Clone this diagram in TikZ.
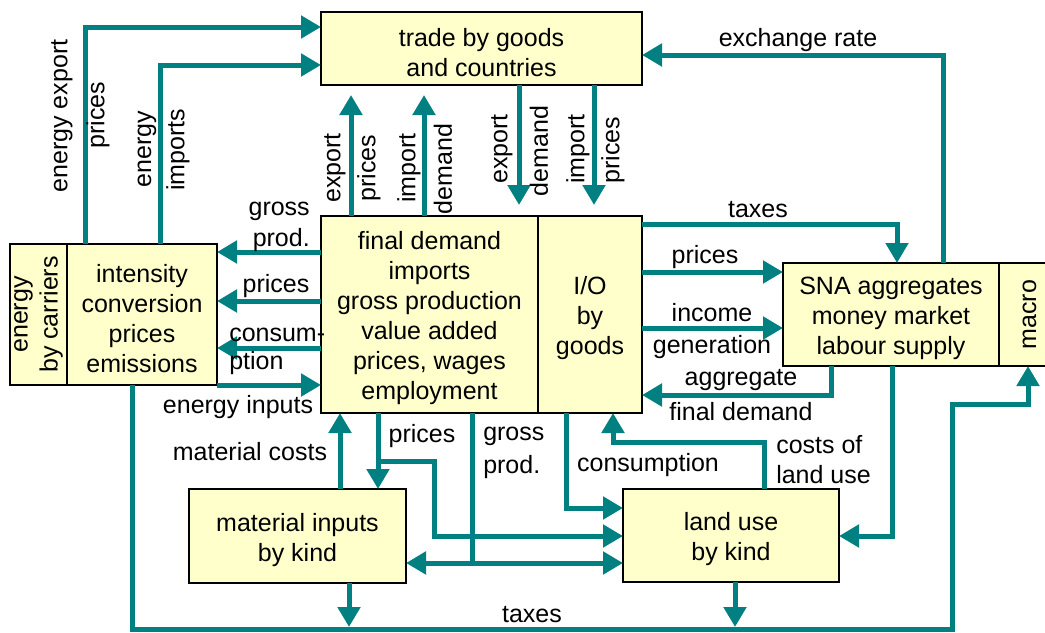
\documentclass[tikz,border=0pt]{standalone}
\usepackage{fontspec}
\setmainfont{Liberation Sans}
\usetikzlibrary{arrows.meta,calc}
\definecolor{flowc}{RGB}{0,128,128}
\definecolor{boxc}{RGB}{255,255,204}
\newcommand{\dfont}{\fontsize{18.75pt}{22.5pt}\selectfont}
\begin{document}
\begin{tikzpicture}[x=0.75pt,y=-0.75pt,
  box/.style={draw=black,line width=0.8pt,fill=boxc,inner sep=0pt,outer sep=0pt,anchor=north west},
  boxtext/.style={label={[lbl,align=center,yshift=-3pt]center:#1}},
  flow/.style={draw=flowc,line width=3.75pt,-{Triangle[length=15pt,width=16.5pt]}},
  flowboth/.style={draw=flowc,line width=3.75pt,{Triangle[length=15pt,width=16.5pt]}-{Triangle[length=15pt,width=16.5pt]}},
  plain/.style={draw=flowc,line width=3.75pt},
  lbl/.style={font=\dfont,inner sep=0pt},
  vlbl/.style={lbl,rotate=90}]
\useasboundingbox (0,0) rectangle (1045,632);
\fill[white] (0,0) rectangle (1045,632);

% boxes
\node[box,minimum width=240.75pt,minimum height=54.75pt,boxtext={trade by goods\\and countries}] (trade) at (321,12) {};
\node[box,minimum width=42.75pt,minimum height=105.75pt] (ecar) at (10,244) {};
\node[vlbl,align=center] (ecartxt) at (ecar.center) {energy\\by carriers};
\node[box,minimum width=112.5pt,minimum height=105.75pt,boxtext={intensity\\conversion\\prices\\emissions}] (intens) at (67,244) {};
\node[box,minimum width=162.75pt,minimum height=147.75pt,boxtext={final demand\\imports\\gross production\\value added\\prices, wages\\employment}] (fd) at (321,216) {};
\node[box,minimum width=78pt,minimum height=147.75pt,boxtext={I/O\\by\\goods}] (io) at (538,216) {};
\node[box,minimum width=162pt,minimum height=77.25pt,boxtext={SNA aggregates\\money market\\labour supply}] (sna) at (783,263) {};
\node[box,minimum width=45.75pt,minimum height=77.25pt] (macro) at (999,263) {};
\node[vlbl] (macrotxt) at (macro.center) {macro};
\node[box,minimum width=162.75pt,minimum height=70.5pt,boxtext={material inputs\\by kind}] (mat) at (189,489) {};
\node[box,minimum width=162pt,minimum height=69.75pt,boxtext={land use\\by kind}] (land) at (623,489) {};

% energy to trade
\draw[flow] ($(intens.north west)+(18,0)$) |- ($(trade.north west)+(0,15)$);
\draw[flow] ($(intens.north west)+(93,0)$) |- ($(trade.north west)+(0,53)$);
% final demand to trade
\draw[flow] ($(fd.north west)+(30,0)$) -- ($(trade.south west)+(30,10)$);
\draw[flow] ($(fd.north west)+(103,0)$) -- ($(trade.south west)+(103,10)$);
% trade to final demand
\draw[flow] ($(trade.south west)+(198,0)$) -- ($(fd.north west)+(198,-11)$);
\draw[flow] ($(trade.south west)+(273,0)$) -- ($(fd.north west)+(273,-11)$);
% final demand to energy
\draw[flow] ($(fd.north west)+(0,36)$) -- ($(intens.north east)+(0,8)$);
\draw[flow] ($(fd.north west)+(0,85)$) -- ($(intens.north east)+(0,57)$);
\draw[flow] ($(fd.north west)+(0,132)$) -- ($(intens.north east)+(0,104)$);
\draw[flow] (intens.south east) -- ($(fd.north west)+(0,169)$);
% io to sna
\draw[flow] ($(io.north east)+(0,8)$) -| ($(sna.north west)+(114,0)$);
\draw[flow] ($(io.north east)+(0,56)$) -- ($(sna.north west)+(0,9)$);
\draw[flow] ($(io.north east)+(0,112)$) -- ($(sna.north west)+(0,65)$);
\draw[flow] ($(sna.south west)+(48,0)$) |- ($(io.north east)+(0,179)$);
% exchange rate
\draw[flow] ($(sna.north west)+(160,0)$) |- ($(trade.north east)+(0,43)$);
% sna to land use
\draw[flow] ($(sna.south west)+(109,0)$) |- ($(land.north east)+(0,47)$);
% bottom
\draw[flow] ($(mat.north west)+(151,0)$) -- ($(fd.south west)+(19,0)$);
\draw[flow] ($(fd.south west)+(57,0)$) -- ($(mat.north west)+(189,0)$);
\draw[flow] ($(fd.south west)+(57,48)$) -- ($(fd.south west)+(113,48)$) |- ($(land.north west)+(0,47)$);
\draw[plain] ($(fd.south west)+(151,0)$) -- ($(fd.south west)+(151,152)$);
\draw[flowboth] ($(mat.north east)+(0,74)$) -- ($(land.north west)+(0,74)$);
\draw[flow] ($(io.south west)+(28,0)$) |- ($(land.north west)+(0,19)$);
\draw[flow] ($(land.north west)+(141,0)$) |- ($(io.south west)+(75,29)$) -- ($(io.south west)+(75,0)$);
% taxes loop
\draw[flow] ($(intens.south west)+(65,0)$) |- ($(macro.south west)+(-47,263)$) |- ($(macro.south west)+(29,38)$) -- ($(macro.south west)+(29,0)$);
\draw[flow] ($(mat.south west)+(160,0)$) -- ($(mat.south west)+(160,44)$);
\draw[flow] ($(land.south west)+(112,0)$) -- ($(land.south west)+(112,45)$);

% labels
\node[vlbl] (l1) at (62,116) {energy export};
\node[vlbl] (l2) at (98,115) {prices};
\node[vlbl] (l3) at (147,149) {energy};
\node[vlbl] (l4) at (178,150) {imports};
\node[vlbl] (l5) at (335,168) {export};
\node[vlbl] (l6) at (369,168) {prices};
\node[vlbl] (l7) at (409,168) {import};
\node[vlbl] (l8) at (443,169) {demand};
\node[vlbl] (l9) at (502,149) {export};
\node[vlbl] (l10) at (539,151) {demand};
\node[vlbl] (l11) at (578,149) {import};
\node[vlbl] (l12) at (613,150) {prices};
\node[lbl,anchor=east] (l13) at (310,211) {gross};
\node[lbl,anchor=east] (l14) at (310,240) {prod.};
\node[lbl] (l15) at (276,286) {prices};
\node[lbl,anchor=west] (l16) at (229,335) {consum-};
\node[lbl,anchor=west] (l17) at (229,363) {ption};
\node[lbl] (l18) at (238,407) {energy inputs};
\node[lbl] (l19) at (758,210) {taxes};
\node[lbl] (l20) at (705,257) {prices};
\node[lbl] (l21) at (712,313) {income};
\node[lbl] (l22) at (712,347) {generation};
\node[lbl] (l23) at (741,380) {aggregate};
\node[lbl] (l24) at (741,412) {final demand};
\node[lbl] (l25) at (798,40) {exchange rate};
\node[lbl] (l26) at (250,452) {material costs};
\node[lbl] (l27) at (422,436) {prices};
\node[lbl,anchor=west] (l28) at (483,436) {gross};
\node[lbl,anchor=west] (l29) at (483,467) {prod.};
\node[lbl] (l30) at (648,465) {consumption};
\node[lbl,anchor=west] (l31) at (776,445) {costs of};
\node[lbl,anchor=west] (l32) at (776,475) {land use};
\node[lbl] (l33) at (532,615) {taxes};
\end{tikzpicture}
\end{document}
